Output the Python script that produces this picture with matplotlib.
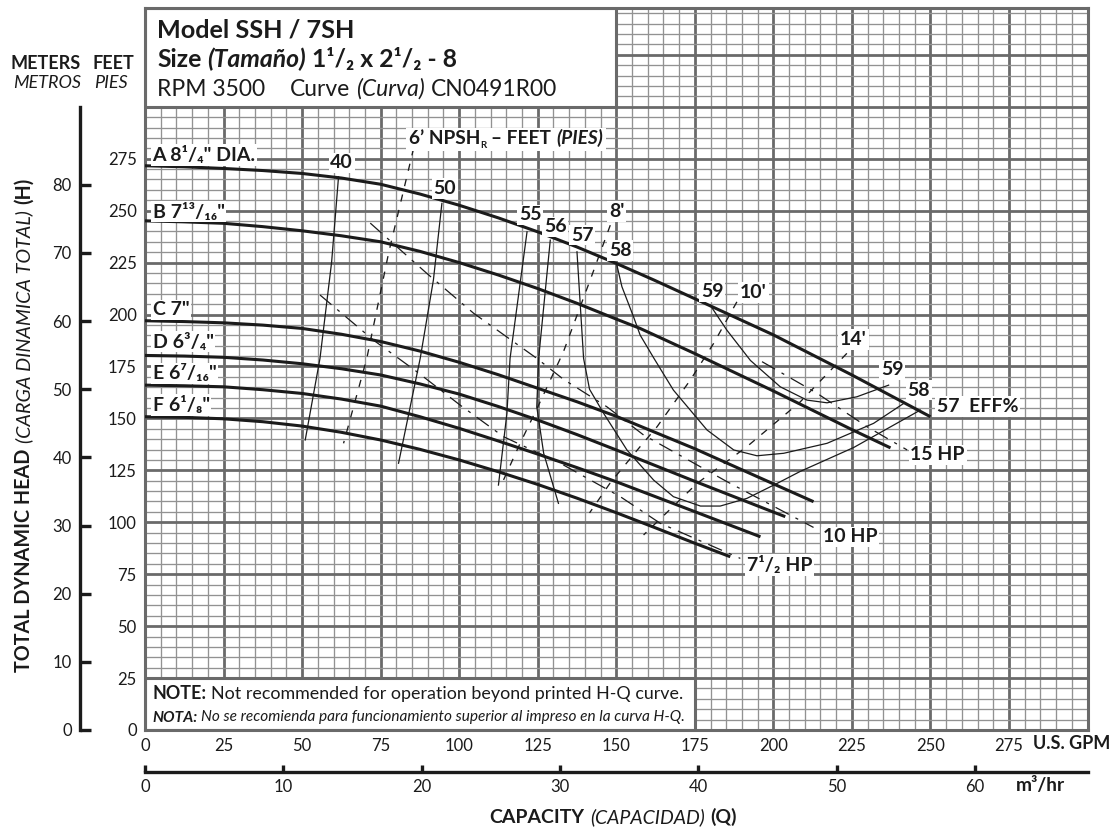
import matplotlib
matplotlib.use("Agg")
import matplotlib.pyplot as plt
from matplotlib.patches import Rectangle
from matplotlib.transforms import IdentityTransform

plt.rcParams['font.family'] = ['Lato', 'DejaVu Sans']

FIG_W, FIG_H = 1114, 833
INK = '#1b1b1b'
GRID_MAJOR = '#6a6a6a'
GRID_MINOR = '#929292'
PX = IdentityTransform()

# ---- values: capacity in U.S. GPM, head in feet ----
gpm_ticks = [0, 25, 50, 75, 100, 125, 150, 175, 200, 225, 250, 275]
feet_ticks = [0, 25, 50, 75, 100, 125, 150, 175, 200, 225, 250, 275]
meter_ticks = [0, 10, 20, 30, 40, 50, 60, 70, 80]
m3hr_ticks = [0, 10, 20, 30, 40, 50, 60]

# impeller H-Q curves
imp_names = ['A 8¹/₄" DIA.', 'B 7¹³/₁₆"', 'C 7"', 'D 6³/₄"', 'E 6⁷/₁₆"', 'F 6¹/₈"']
imp_label_head = [276.7, 249.5, 202.2, 186.9, 171.7, 156.4]
a_gpm = [0, 12.5, 25, 37.5, 50, 62.5, 75, 87.5, 100, 112.5, 125, 137.5, 150, 162, 175, 200, 225, 250]
a_head = [271.6, 271.1, 270.3, 269.3, 267.9, 265.7, 262.7, 258.0, 252.6, 246.5, 239.8, 232.5, 224.6,
          216.6, 207.6, 190.2, 170.9, 150.8]
b_gpm = [0, 12.5, 25, 37.5, 50, 62.5, 75, 87.5, 100, 112.5, 125, 137.5, 150, 157.6, 175, 200, 225, 237.3]
b_head = [245.1, 244.6, 243.9, 242.3, 240.3, 237.9, 235.0, 230.4, 225.0, 219.0, 212.5, 205.4, 197.8,
          193.3, 181.2, 163.2, 144.6, 135.8]
c_gpm = [0, 12.5, 25, 37.5, 50, 62.5, 75, 87.5, 100, 112.5, 125, 137.5, 150, 175, 200, 212.8]
c_head = [197.0, 196.6, 196.0, 194.9, 193.3, 190.5, 187.0, 182.4, 177.0, 171.0, 164.5, 158.0, 151.0,
          135.4, 118.5, 109.9]
d_gpm = [0, 12.5, 25, 37.5, 50, 62.5, 75, 87.5, 100, 112.5, 125, 137.5, 150, 175, 200, 203.8]
d_head = [180.3, 180.0, 179.4, 178.1, 176.3, 173.9, 170.9, 166.6, 161.7, 155.7, 149.2, 142.2, 134.8,
          119.7, 104.9, 102.7]
e_gpm = [0, 12.5, 25, 37.5, 50, 62.5, 75, 87.5, 100, 112.5, 125, 137.5, 150, 175, 195.9]
e_head = [166.0, 165.7, 165.2, 163.8, 162.0, 159.3, 155.9, 150.8, 145.2, 139.1, 132.8, 126.3, 119.5,
          105.1, 93.0]
f_gpm = [0, 12.5, 25, 37.5, 50, 62.5, 75, 87.5, 100, 112.5, 125, 137.5, 150, 162.5, 175, 186.3]
f_head = [150.8, 150.5, 149.8, 148.4, 146.3, 143.3, 139.6, 135.1, 130.0, 124.3, 118.2, 111.6, 104.6,
          97.3, 89.9, 83.4]

# efficiency lines
eff40_gpm = [61.6, 59.4, 55.7, 51.0]
eff40_head = [266.3, 225.2, 178.9, 139.6]
eff50_gpm = [94.5, 91.8, 87.6, 80.7]
eff50_head = [253.5, 216.6, 178.9, 128.4]
eff55_gpm = [121.6, 116.2, 115.2, 112.5]
eff55_head = [239.8, 178.9, 152.4, 117.9]
eff56_gpm = [129.0, 125.3, 124.7, 126.9, 131.6]
eff56_head = [235.8, 178.9, 155.6, 133.2, 109.1]
eff57_gpm = [137.5, 139.6, 141.5, 146.0, 153.4, 161.9, 168.2, 176.8, 183.1, 191.6, 201.2, 208.6, 225.6, 246.8]
eff57_head = [230.2, 178.9, 164.0, 152.4, 134.8, 120.3, 112.3, 107.8, 107.8, 111.5, 118.7, 124.5, 136.0, 154.0]
eff58_gpm = [150.2, 151.8, 155.5, 157.6, 162.0, 168.2, 178.9, 187.4, 194.8, 203.3, 217.1, 231.9, 241.5]
eff58_head = [223.8, 213.4, 198.9, 190.1, 178.9, 163.6, 144.4, 134.8, 132.0, 133.2, 138.0, 147.6, 157.2]
eff59_gpm = [179.9, 185.2, 192.7, 202.2, 210.7, 217.1, 226.6, 236.7]
eff59_head = [204.5, 192.5, 177.9, 165.2, 158.8, 157.5, 160.4, 166.0]

# NPSH required lines (feet)
npsh6_gpm = [85.5, 77.6, 70.6, 63.2]
npsh6_head = [280.0, 230.0, 178.9, 138.0]
npsh8_gpm = [148.1, 141.7, 133.2, 125.3, 119.4, 114.1]
npsh8_head = [243.0, 216.6, 182.1, 156.4, 138.0, 120.3]
npsh10_gpm = [188.4, 181.0, 173.6, 163.0, 157.6, 148.1, 141.5]
npsh10_head = [206.1, 186.1, 168.5, 146.0, 136.4, 119.0, 104.5]
npsh14_gpm = [223.4, 208.6, 191.6, 175.7, 158.7]
npsh14_head = [181.3, 158.0, 136.4, 118.7, 93.9]

# horsepower lines
hp7_gpm = [55.7, 72.7, 86.5, 100.3, 114.1, 132.2, 151.3, 164.0, 189.5]
hp7_head = [209.4, 187.7, 172.5, 156.4, 141.2, 128.4, 112.3, 99.5, 82.6]
hp10_gpm = [71.7, 89.7, 104.6, 124.7, 133.2, 147.0, 158.7, 185.3, 212.8]
hp10_head = [244.0, 219.8, 200.6, 178.9, 168.8, 155.6, 142.0, 119.5, 97.5]
hp15_gpm = [196.4, 213.9, 229.8, 242.6]
hp15_head = [177.3, 162.1, 146.0, 134.8]

# labels on the plot: (text, gpm, feet)
eff_labels = [('40', 62.6, 273.0), ('50', 95.5, 260.7), ('55', 122.6, 247.9),
              ('56', 130.6, 242.2), ('57', 139.1, 238.2), ('58', 151.3, 230.7),
              ('59', 180.5, 211.0), ('59', 237.8, 173.3), ('58', 246.3, 163.6)]
npsh_labels = [("8'", 150.2, 249.5), ("10'", 193.7, 210.5), ("14'", 225.5, 188.0)]
hp_labels = [('15 HP', 243.6, 132.4), ('10 HP', 215.8, 93.0), ('7¹/₂ HP', 191.6, 79.4)]


def rich_text(fig, parts, x, y, ha='left', rotation=0, bg=False):
    # lay out differently styled pieces one after another (pixel coords)
    renderer = fig.canvas.get_renderer()
    items = []
    for s, kw in parts:
        kw = dict(kw)
        gap = kw.pop('gap', 0)
        dy = kw.pop('dy', 0)
        if rotation == 0:
            t = fig.text(0, 0, s, transform=PX, ha='left', va='baseline', **kw)
        else:
            t = fig.text(0, 0, s, transform=PX, ha='center', va='bottom', rotation=rotation, **kw)
        bb = t.get_window_extent(renderer)
        items.append((t, bb.width if rotation == 0 else bb.height, gap, dy))
    total = sum(it[1] + it[2] for it in items) - items[-1][2]
    pos = x if rotation == 0 else y
    if ha == 'center':
        pos -= total / 2
    elif ha == 'right':
        pos -= total
    for t, size, gap, dy in items:
        if rotation == 0:
            t.set_position((pos, y + dy))
        else:
            t.set_position((x, pos))
        pos += size + gap
    if bg:
        boxes = [it[0].get_window_extent(renderer) for it in items]
        x0 = min(b.x0 for b in boxes) - 3
        x1 = max(b.x1 for b in boxes) + 3
        y0 = min(b.y0 for b in boxes) - 1
        y1 = max(b.y1 for b in boxes) + 1
        fig.patches.append(Rectangle((x0, y0), x1 - x0, y1 - y0, transform=PX,
                                     facecolor='white', edgecolor='none', zorder=2.5))


fig = plt.figure(figsize=(FIG_W / 100, FIG_H / 100), dpi=100)

# main grid axes: 0-300 GPM by 0-347 ft
left, right, bottom, top = 145, 1087.5, 730, 8.5
ax = fig.add_axes([left / FIG_W, (FIG_H - bottom) / FIG_H, (right - left) / FIG_W, (bottom - top) / FIG_H])
ax.set_xlim(0, 300)
ax.set_ylim(0, 347.3)
ax.set_xticks(list(range(0, 301, 25)))
ax.set_xticklabels([str(v) for v in gpm_ticks] + [''])
ax.set_yticks(list(range(0, 326, 25)))
ax.set_yticklabels([str(v) for v in feet_ticks] + ['', ''])
ax.set_xticks(list(range(0, 301, 5)), minor=True)
ax.set_yticks(list(range(0, 346, 5)), minor=True)
ax.tick_params(which='both', length=0)
ax.tick_params(axis='both', labelsize=12, labelcolor=INK, pad=6)
ax.grid(which='minor', color=GRID_MINOR, lw=0.95)
ax.grid(which='major', color=GRID_MAJOR, lw=2.0)
ax.set_axisbelow(True)
for sp in ax.spines.values():
    sp.set_color(GRID_MAJOR)
    sp.set_linewidth(2.2)

# title box and note box (white, covering the grid)
ax.add_patch(Rectangle((0, 300), 150, 47.3, facecolor='white', edgecolor=GRID_MAJOR, lw=2.2, zorder=2))
ax.add_patch(Rectangle((0, 0), 175, 25, facecolor='white', edgecolor=GRID_MAJOR, lw=2.2, zorder=2))

# H-Q curves
for g, h in [(a_gpm, a_head), (b_gpm, b_head), (c_gpm, c_head),
             (d_gpm, d_head), (e_gpm, e_head), (f_gpm, f_head)]:
    ax.plot(g, h, color=INK, lw=2.2, solid_capstyle='butt', solid_joinstyle='round', zorder=3)

for g, h in [(eff40_gpm, eff40_head), (eff50_gpm, eff50_head), (eff55_gpm, eff55_head),
             (eff56_gpm, eff56_head), (eff57_gpm, eff57_head), (eff58_gpm, eff58_head),
             (eff59_gpm, eff59_head)]:
    ax.plot(g, h, color=INK, lw=0.9, solid_joinstyle='round', zorder=3)

for g, h in [(npsh6_gpm, npsh6_head), (npsh8_gpm, npsh8_head),
             (npsh10_gpm, npsh10_head), (npsh14_gpm, npsh14_head)]:
    ax.plot(g, h, color=INK, lw=0.95, linestyle=(0, (5.5, 6.5)), zorder=3)

for g, h in [(hp7_gpm, hp7_head), (hp10_gpm, hp10_head), (hp15_gpm, hp15_head)]:
    ax.plot(g, h, color=INK, lw=0.9, linestyle=(0, (12, 6, 2.5, 6)), zorder=3)

label_box = dict(facecolor='white', edgecolor='none', pad=1.2)
for name, hd in zip(imp_names, imp_label_head):
    ax.text(2.4, hd, name, fontsize=14, fontweight='bold', color=INK, va='center', ha='left',
            bbox=label_box, zorder=4)
for s, g, hd in eff_labels + npsh_labels:
    ax.text(g, hd, s, fontsize=14, fontweight='bold', color=INK, va='center', ha='center',
            bbox=label_box, zorder=4)
for s, g, hd in hp_labels:
    ax.text(g, hd, s, fontsize=14, fontweight='bold', color=INK, va='center', ha='left',
            bbox=label_box, zorder=4)
ax.text(252.1, 155.6, '57  EFF%', fontsize=14, fontweight='bold', color=INK, va='center', ha='left',
        bbox=label_box, zorder=4)

# meters axis on the far left
axm = fig.add_axes([80 / FIG_W, (FIG_H - bottom) / FIG_H, 0.0005, (bottom - top) / FIG_H])
axm.set_ylim(0, 347.3 * 0.3048)
axm.patch.set_visible(False)
for k in ['right', 'top', 'bottom']:
    axm.spines[k].set_visible(False)
axm.spines['left'].set_color(INK)
axm.spines['left'].set_linewidth(2.4)
axm.spines['left'].set_bounds(0, 300 * 0.3048)
axm.set_xticks([])
axm.set_yticks(meter_ticks)
axm.tick_params(axis='y', direction='in', length=8, width=2.4, color=INK,
                labelsize=12, labelcolor=INK, pad=6)

# m3/hr axis under the GPM labels
axq = fig.add_axes([left / FIG_W, (FIG_H - 771.7) / FIG_H, (right - left) / FIG_W, 0.0005])
axq.set_xlim(0, 300 * 0.2271)
axq.patch.set_visible(False)
for k in ['left', 'right', 'top']:
    axq.spines[k].set_visible(False)
axq.spines['bottom'].set_color(INK)
axq.spines['bottom'].set_linewidth(2.4)
axq.set_yticks([])
axq.set_xticks(m3hr_ticks)
axq.tick_params(axis='x', direction='in', length=5, width=2.4, color=INK,
                labelsize=12, labelcolor=INK, pad=5)

B = dict(fontweight='bold', color=INK)
R = dict(color=INK)
I = dict(style='italic', color=INK)
BI = dict(fontweight='bold', style='italic', color=INK)

# title block
rich_text(fig, [('Model SSH / 7SH', dict(B, fontsize=18.2))], 157, FIG_H - 38)
rich_text(fig, [('Size', dict(B, fontsize=17.8, gap=6)), ('(Tamaño)', dict(BI, fontsize=17.8, gap=6)),
                ('1¹/₂ x 2¹/₂ - 8', dict(B, fontsize=17.8))], 157, FIG_H - 67)
rich_text(fig, [('RPM 3500', dict(R, fontsize=16.5, gap=25)), ('Curve', dict(R, fontsize=16.5, gap=6)),
                ('(Curva)', dict(I, fontsize=16.5, gap=6)), ('CN0491R00', dict(R, fontsize=16.5))],
          157, FIG_H - 96)

# NPSH heading label
nx, ny = ax.transData.transform((83.9, 281.9))
rich_text(fig, [("6’ NPSH", dict(B, fontsize=13.8)), ('R', dict(B, fontsize=7, dy=-4, gap=5)),
                ('– FEET', dict(B, fontsize=13.8, gap=5)), ('(PIES)', dict(BI, fontsize=13.8))],
          nx, ny, bg=True)

# note box text
rich_text(fig, [('NOTE:', dict(B, fontsize=12.9, gap=5)),
                ('Not recommended for operation beyond printed H-Q curve.', dict(R, fontsize=12.9))],
          152, FIG_H - 699)
rich_text(fig, [('NOTA:', dict(BI, fontsize=11.1, gap=4)),
                ('No se recomienda para funcionamiento superior al impreso en la curva H-Q.',
                 dict(I, fontsize=11.1))], 152, FIG_H - 721.5)

# axis headings
fig.text(81, FIG_H - 69.3, 'METERS', transform=PX, ha='right', va='baseline', fontsize=13, **B)
fig.text(93, FIG_H - 69.3, 'FEET', transform=PX, ha='left', va='baseline', fontsize=13, **B)
fig.text(81, FIG_H - 87.7, 'METROS', transform=PX, ha='right', va='baseline', fontsize=13, **I)
fig.text(94, FIG_H - 87.7, 'PIES', transform=PX, ha='left', va='baseline', fontsize=13, **I)
rich_text(fig, [('TOTAL DYNAMIC HEAD', dict(B, fontsize=14.2, gap=6)),
                ('(CARGA DINAMICA TOTAL)', dict(I, fontsize=14.2, gap=6)),
                ('(H)', dict(B, fontsize=14.2))], 24, FIG_H - 425, ha='center', rotation=90)
rich_text(fig, [('CAPACITY', dict(B, fontsize=14, gap=6)),
                ('(CAPACIDAD)', dict(I, fontsize=14, gap=6)),
                ('(Q)', dict(B, fontsize=14))], 613, FIG_H - 823, ha='center')
fig.text(1110, FIG_H - 749, 'U.S. GPM', transform=PX, ha='right', va='baseline', fontsize=13, **B)
fig.text(1016, FIG_H - 791.5, 'm³/hr', transform=PX, ha='left', va='baseline', fontsize=13.8, **B)

fig.savefig('out.png', dpi=100)
